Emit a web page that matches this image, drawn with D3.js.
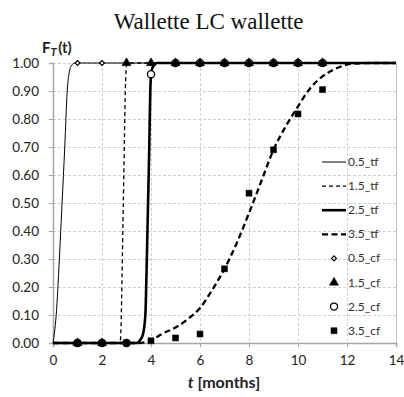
<!DOCTYPE html>
<html><head><meta charset="utf-8">
<script src="https://cdn.jsdelivr.net/npm/d3@7"></script>
<style>body{margin:0;background:#fff}svg{display:block}</style>
</head><body>
<svg id="c" width="404" height="397"></svg>
<script>
// ---- data ----
const xTicks = [0, 2, 4, 6, 8, 10, 12, 14];
const yTicks = [0, 0.1, 0.2, 0.3, 0.4, 0.5, 0.6, 0.7, 0.8, 0.9, 1.0];

const tf05_t = [0, 0.13, 0.26, 0.37, 0.48, 0.58, 0.67, 0.75, 0.9, 1, 14];
const tf05_F = [0, 0.1, 0.3, 0.5, 0.7, 0.9, 0.97, 0.99, 1, 1, 1];

const tf15_t = [0, 2.74, 2.76, 2.87, 2.97, 3.0, 3.05, 14];
const tf15_F = [0, 0, 0.02, 0.5, 0.95, 0.99, 1, 1];

const tf25_t = [0, 3.4, 3.55, 3.67, 3.77, 3.83, 3.88, 3.93, 3.97, 4.02, 4.1, 4.25, 14];
const tf25_F = [0, 0, 0.01, 0.03, 0.1, 0.3, 0.5, 0.7, 0.9, 0.97, 0.99, 1, 1];

const tf35_t = [0, 3.5, 4, 4.5, 5, 5.5, 6, 6.5, 7, 7.5, 8, 8.5, 9, 9.5, 10, 10.5, 11, 11.5, 12, 12.5, 13, 14];
const tf35_F = [0, 0, 0.01, 0.035, 0.055, 0.085, 0.125, 0.19, 0.265, 0.357, 0.464, 0.577, 0.69, 0.774, 0.845, 0.91, 0.952, 0.978, 0.994, 0.999, 1, 1];

const cf_t  = [1, 2, 3, 4, 5, 6, 7, 8, 9, 10, 11];
const cf05 = [1, 1, 1, 1, 1, 1, 1, 1, 1, 1, 1];
const cf15 = [0, 0, 1, 1, 1, 1, 1, 1, 1, 1, 1];
const cf25 = [0, 0, 0, 0.96, 1, 1, 1, 1, 1, 1, 1];
const cf35 = [0, 0, 0, 0.008, 0.018, 0.032, 0.265, 0.535, 0.69, 0.818, 0.905];

const lineNames = ["0.5_tf", "1.5_tf", "2.5_tf", "3.5_tf"];
const pointNames = ["0.5_cf", "1.5_cf", "2.5_cf", "3.5_cf"];

// ---- layout ----
const svg = d3.select("#c");
const L = 53, R = 396, T = 63, B = 343;
const x = d3.scaleLinear().domain([0, 14]).range([L, R]);
const y = d3.scaleLinear().domain([0, 1]).range([B, T]);
const font = "Lato, 'Open Sans', sans-serif";
const txt = "#222";

// gridlines
svg.append("g").selectAll("line").data(yTicks.slice(1)).join("line")
  .attr("x1", L).attr("x2", R).attr("y1", d => y(d)).attr("y2", d => y(d))
  .attr("stroke", "#cfcfcf").attr("stroke-dasharray", "3,2").attr("shape-rendering", "crispEdges");
svg.append("g").selectAll("line").data(xTicks.slice(1, -1)).join("line")
  .attr("y1", T).attr("y2", B).attr("x1", d => x(d)).attr("x2", d => x(d))
  .attr("stroke", "#cfcfcf").attr("stroke-dasharray", "3,2").attr("shape-rendering", "crispEdges");
// right border
svg.append("line").attr("x1", R).attr("x2", R).attr("y1", T).attr("y2", B)
  .attr("stroke", "#c0c0c0").attr("shape-rendering", "crispEdges");

// axes
const xAxis = svg.append("g").attr("transform", `translate(0,${B})`)
  .call(d3.axisBottom(x).tickValues(xTicks).tickSize(4).tickPadding(8).tickFormat(d3.format("d")));
const yAxis = svg.append("g").attr("transform", `translate(${L},0)`)
  .call(d3.axisLeft(y).tickValues(yTicks).tickSize(4).tickPadding(10).tickFormat(d3.format(".2f")));
[xAxis, yAxis].forEach(g => {
  g.select(".domain").attr("stroke", "#a6a6a6").attr("stroke-width", 1.5);
  g.selectAll(".tick line").attr("stroke", "#a6a6a6");
  g.selectAll("text").attr("font-family", font).attr("font-size", 13.5).attr("fill", txt);
});

// curves
const line = d3.line().x(d => x(d[0])).y(d => y(d[1])).curve(d3.curveMonotoneX);
const styles = [
  {w: 1, dash: null},
  {w: 1.3, dash: "4,3"},
  {w: 2.6, dash: null},
  {w: 2.3, dash: "6,3.5"}
];
const curves = [[tf05_t, tf05_F], [tf15_t, tf15_F], [tf25_t, tf25_F], [tf35_t, tf35_F]];
curves.forEach((c, i) => {
  svg.append("path").datum(d3.zip(c[0], c[1]))
    .attr("d", line).attr("fill", "none").attr("stroke", "#000")
    .attr("stroke-width", styles[i].w).attr("stroke-dasharray", styles[i].dash);
});

// markers
const sym = [
  {type: d3.symbolSquare, size: 12, fill: "#fff", sw: 1.2, rot: 45},
  {type: d3.symbolTriangle, size: 36, fill: "#000", sw: 0.5, rot: 0},
  {type: d3.symbolCircle, size: 40, fill: "#fff", sw: 1.3, rot: 0},
  {type: d3.symbolSquare, size: 36, fill: "#000", sw: 0.5, rot: 0}
];
const pts = [cf05, cf15, cf25, cf35];
const drawOrder = [2, 0, 1, 3];
drawOrder.forEach(i => {
  const vals = pts[i];
  svg.append("g").selectAll("path").data(d3.zip(cf_t, vals)).join("path")
    .attr("transform", d => `translate(${x(d[0])},${y(d[1])}) rotate(${sym[i].rot})`)
    .attr("d", d3.symbol().type(sym[i].type).size(sym[i].size))
    .attr("fill", sym[i].fill).attr("stroke", "#000").attr("stroke-width", sym[i].sw);
});

// legend
const lg = svg.append("g");
const ly0 = 162, ldy = 24.1;
lineNames.forEach((n, i) => {
  const yy = ly0 + i * ldy;
  lg.append("line").attr("x1", 322).attr("x2", 346).attr("y1", yy).attr("y2", yy)
    .attr("stroke", "#000").attr("stroke-width", styles[i].w).attr("stroke-dasharray", styles[i].dash);
  lg.append("text").attr("x", 348).attr("y", yy + 4).text(n)
    .attr("font-family", font).attr("font-size", 12).attr("fill", "#333");
});
pointNames.forEach((n, i) => {
  const yy = ly0 + (i + 4) * ldy;
  lg.append("path").attr("transform", `translate(334,${yy}) rotate(${sym[i].rot})`)
    .attr("d", d3.symbol().type(sym[i].type).size(sym[i].size))
    .attr("fill", sym[i].fill).attr("stroke", "#000").attr("stroke-width", sym[i].sw);
  lg.append("text").attr("x", 348).attr("y", yy + 4).text(n)
    .attr("font-family", font).attr("font-size", 12).attr("fill", "#333");
});

// title
svg.append("text").attr("x", 208.5).attr("y", 29).attr("text-anchor", "middle")
  .attr("font-family", "'Liberation Serif', 'Times New Roman', serif").attr("font-size", 23)
  .attr("fill", "#111").text("Wallette LC wallette");

// y label F_T(t)
const yl = svg.append("text").attr("x", 42).attr("y", 53)
  .attr("font-family", font).attr("font-size", 15).attr("font-weight", "bold").attr("fill", txt);
yl.append("tspan").text("F");
yl.append("tspan").attr("font-style", "italic").attr("font-size", 11).attr("dy", 3).text("T");
yl.append("tspan").attr("dy", -3).attr("dx", 1.5).text("(t)");

// x label
const xl = svg.append("text").attr("x", 224).attr("y", 388).attr("text-anchor", "middle")
  .attr("font-family", font).attr("font-size", 16).attr("font-weight", "bold").attr("fill", txt);
xl.append("tspan").attr("font-style", "italic").text("t");
xl.append("tspan").text(" [months]");
</script>
</body></html>
